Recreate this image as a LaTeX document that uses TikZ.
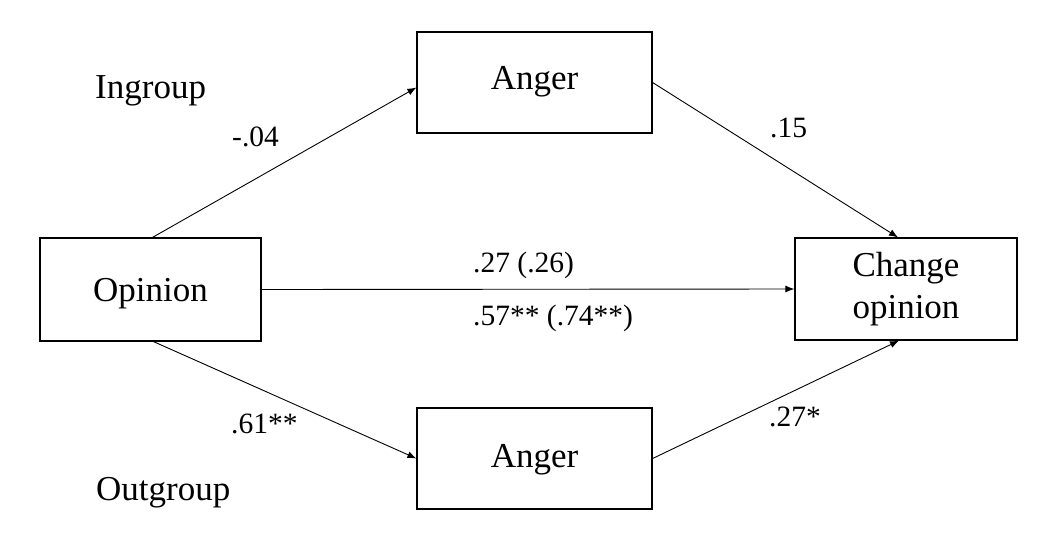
\documentclass[tikz,border=0pt]{standalone}
\usepackage{fontspec}
\setmainfont{Liberation Serif}
\usetikzlibrary{arrows.meta,calc}
\tikzset{
  boxnode/.style={draw=black, line width=1.2pt, inner sep=0pt, minimum height=101pt,
    text height=23pt, font=\fontsize{35}{42}\selectfont, align=center},
  lbl/.style={font=\fontsize{29.5}{34}\selectfont, inner sep=0pt, anchor=base west},
  grp/.style={font=\fontsize{35}{42}\selectfont, inner sep=0pt, anchor=base west},
  conn/.style={draw=black, line width=0.9pt, -{Latex[length=9pt,width=7pt]}}
}
\begin{document}
\begin{tikzpicture}[x=1pt,y=-1pt]
  \fill[white] (0,0) rectangle (1045,550);
  \useasboundingbox (0,0) rectangle (1045,550);

  % boxes
  \node[boxnode, minimum width=221pt, minimum height=103pt, text depth=0pt] (op) at (150.5,289.5) {Opinion};
  \node[boxnode, minimum width=235pt, text depth=10pt] (a1) at (534.5,82.5) {Anger};
  \node[boxnode, minimum width=235pt, text depth=6pt] (a2) at (534.5,458.5) {Anger};
  \node[boxnode, minimum width=222pt, minimum height=102pt, text height=65pt, text depth=7pt] (ch) at (906,289) {Change\\opinion};

  % connectors
  \draw[conn] ([xshift=2pt]op.north) -- ($(a1.west)+(0,5)$);
  \draw[conn] (a1.east) -- ([xshift=-8pt]ch.north);
  \draw[conn] (op.east) -- (ch.west);
  \draw[conn] ([xshift=3pt]op.south) -- (a2.west);
  \draw[conn] (a2.east) -- ([xshift=-7pt]ch.south);

  % labels
  \node[grp] (ing) at (95,98) {Ingroup};
  \node[grp] (outg) at (96,500) {Outgroup};
  \node[lbl] (l1) at (232,146) {-.04};
  \node[lbl] (l2) at (770,137) {.15};
  \node[lbl] (l3) at (473,272) {.27 (.26)};
  \node[lbl] (l4) at (473,325) {.57** (.74**)};
  \node[lbl] (l5) at (231,433) {.61**};
  \node[lbl] (l6) at (769,426) {.27*};
\end{tikzpicture}
\end{document}
